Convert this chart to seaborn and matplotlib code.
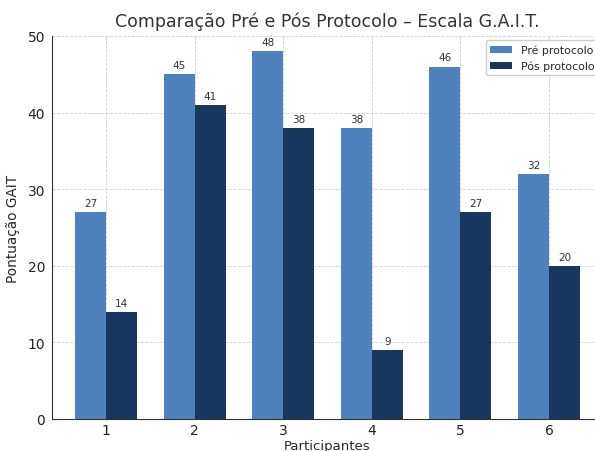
import matplotlib
matplotlib.use("Agg")
import matplotlib.pyplot as plt
import seaborn as sns
import pandas as pd

participantes = ["1", "2", "3", "4", "5", "6"]
pre_protocolo = [27, 45, 48, 38, 46, 32]
pos_protocolo = [14, 41, 38, 9, 27, 20]
series_names = ["Pré protocolo", "Pós protocolo"]
palette = ["#4F81BD", "#17375E"]

df = pd.DataFrame({
    "Participantes": participantes * 2,
    "Pontuação": pre_protocolo + pos_protocolo,
    "Momento": [series_names[0]] * len(participantes) + [series_names[1]] * len(participantes),
})

sns.set_style("whitegrid", {"grid.linestyle": "--", "grid.color": "#cccccc",
                            "axes.edgecolor": "#333333"})
plt.rcParams["font.family"] = ["DejaVu Sans"]

fig = plt.figure(figsize=(5.95, 4.52), dpi=100)
ax = fig.add_axes([52 / 595, 32 / 452, 551 / 595, 383 / 452])

sns.barplot(data=df, x="Participantes", y="Pontuação", hue="Momento",
            palette=palette, width=0.7, linewidth=0, saturation=1, ax=ax)

for container in ax.containers:
    ax.bar_label(container, padding=3, fontsize=7.5, color="#333333")

ax.set_xlim(-0.61, 5.61)
ax.set_ylim(0, 50)
ax.set_axisbelow(True)
ax.grid(True, linestyle="--", color="#d0d0d0", linewidth=0.6)
sns.despine(ax=ax, top=True, right=True)
ax.tick_params(axis="both", labelsize=10, length=0, colors="#222222")
ax.tick_params(axis="x", pad=3)
ax.tick_params(axis="y", pad=5)

ax.set_title("Comparação Pré e Pós Protocolo – Escala G.A.I.T.", fontsize=12.5,
             color="#333333", pad=7)
ax.set_xlabel("Participantes", fontsize=9.5, labelpad=1)
ax.set_ylabel("Pontuação GAIT", fontsize=9.8, labelpad=5)

ax.legend(loc="upper right", bbox_to_anchor=(1.0, 1.0), fontsize=7.8,
          frameon=True, framealpha=1, edgecolor="#cccccc", borderaxespad=0.4)

fig.savefig("out.png", dpi=100)
